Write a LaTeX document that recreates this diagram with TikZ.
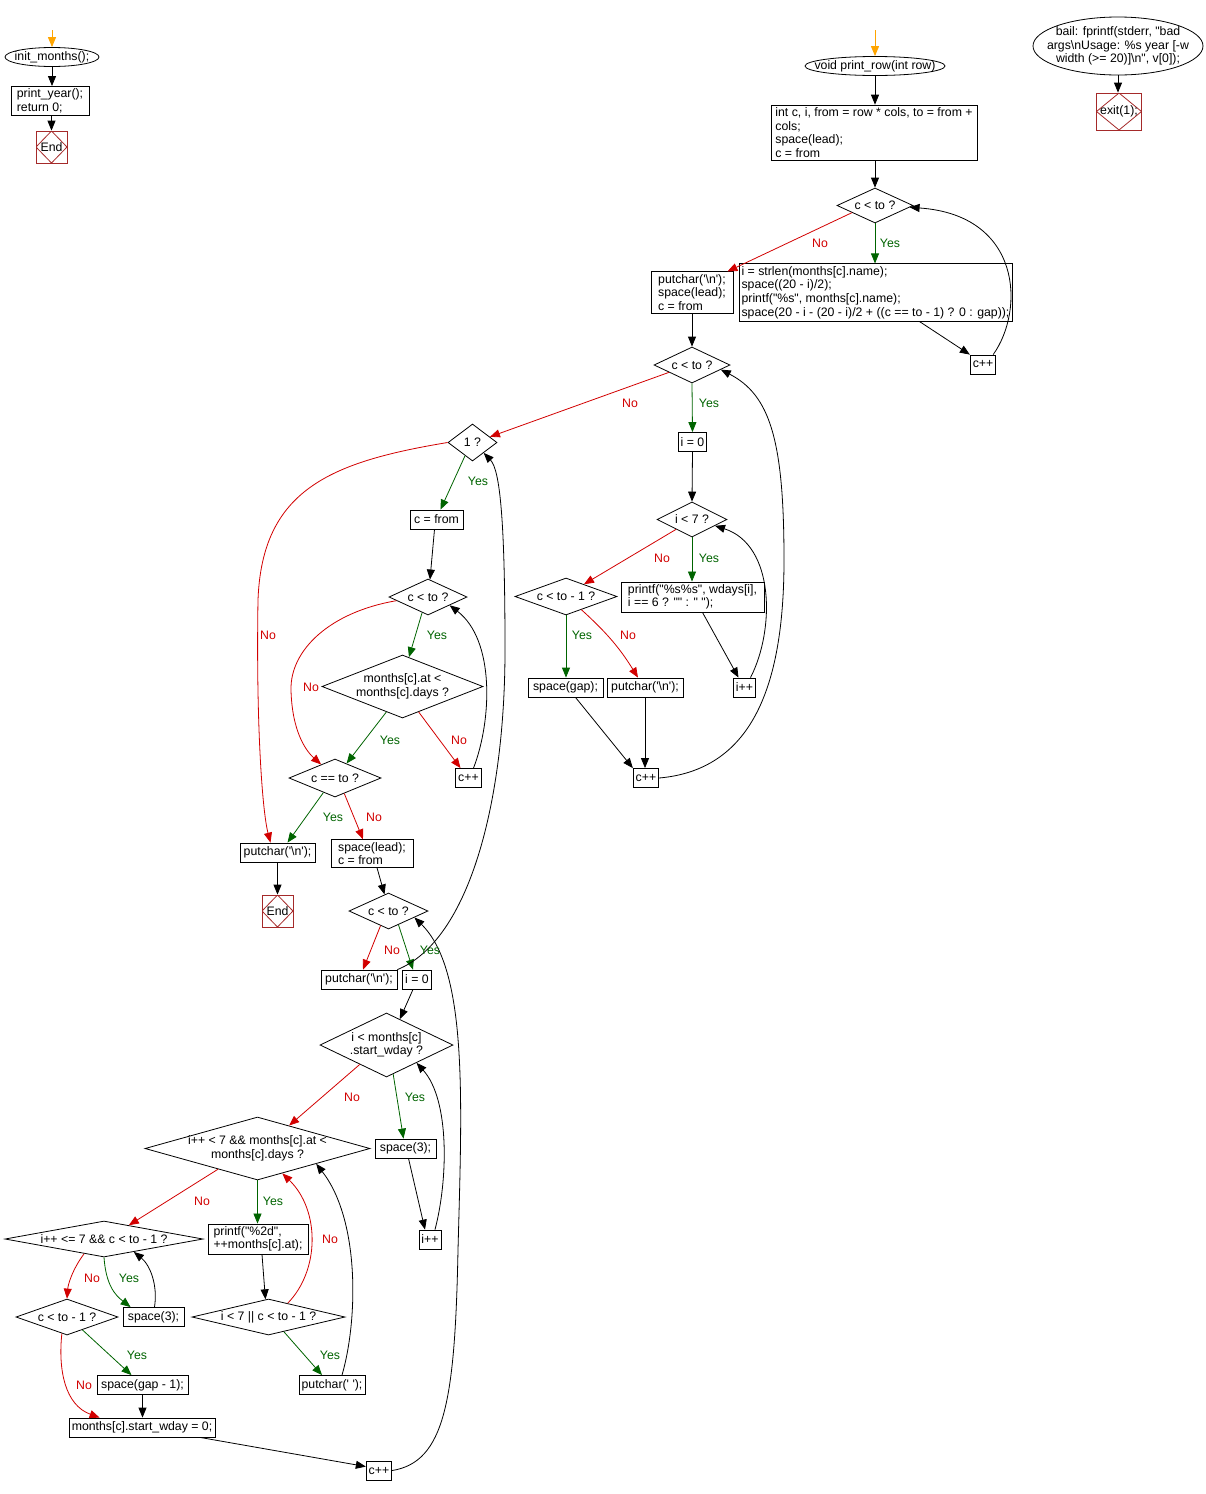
\documentclass[tikz,border=0pt]{standalone}
\usepackage{fontspec}
\setmainfont{Liberation Sans}[Ligatures=TeXOff]
\usetikzlibrary{arrows.meta,shapes.geometric,calc}
\definecolor{nored}{RGB}{210,0,0}
\definecolor{yesgreen}{RGB}{0,100,0}
\definecolor{endc}{RGB}{165,42,42}
\definecolor{startor}{RGB}{255,165,0}
\begin{document}
\begin{tikzpicture}[x=1pt,y=-1pt,
  font=\fontsize{12.3}{13.6}\selectfont,
  box/.style={draw, rectangle, inner sep=2.5pt, align=left, line width=0.8pt, minimum height=19pt},
  dia/.style={draw, diamond, inner sep=0pt, line width=0.8pt},
  ell/.style={draw, ellipse, inner sep=0pt, line width=0.8pt},
  endbox/.style={draw=endc, rectangle, line width=0.8pt, inner sep=0pt, path picture={\draw[endc, line width=0.8pt] (path picture bounding box.north) -- (path picture bounding box.east) -- (path picture bounding box.south) -- (path picture bounding box.west) -- cycle;}},
  arr/.style={-{Triangle[length=10pt,width=8pt]}, line width=0.8pt},
  yesarr/.style={arr, color=yesgreen},
  noarr/.style={arr, color=nored},
  startarr/.style={arr, color=startor, line width=1pt},
  ylab/.style={text=yesgreen, inner sep=0pt},
  nlab/.style={text=nored, inner sep=0pt}
]
\fill[white] (0,0) rectangle (1206,1494);
\useasboundingbox (0,0) rectangle (1206,1494);

% top left
\coordinate (sL) at (52,30);
\node[ell, minimum width=94, minimum height=19, label={center:init\_months();}] (init) at (52,57) {};
\node[box, minimum width=78] (py) at (50,101) {print\_year();\\return 0;};
\node[endbox, minimum width=31, minimum height=32] (endL) at (51.5,147) {End};

% print_row
\coordinate (sR) at (875,30);
\node[ell, minimum width=140, minimum height=19, label={center:void print\_row(int row)}] (pr) at (875,66) {};
\node[box, minimum width=206] (b1) at (874,132.5) {int c, i, from = row * cols, to = from +\\cols;\\space(lead);\\c = from};
\node[dia, minimum width=76, minimum height=35, label={center:c < to ?}] (d1) at (875,205.5) {};
\node[box] (b2) at (875.5,292.5) {i = strlen(months[c].name);\\space((20 - i)/2);\\printf("\%s", months[c].name);\\space(20 - i - (20 - i)/2 + ((c == to - 1) ? 0 : gap));};
\node[box, minimum width=82] (b3) at (692,292.5) {putchar('\textbackslash n');\\space(lead);\\c = from};
\node[box] (cpp1) at (983,364.5) {c++};
\node[dia, minimum width=76, minimum height=36, label={center:c < to ?}] (d2) at (692,365) {};
\node[box] (i0a) at (692.5,442) {i = 0};
\node[dia, minimum width=70, minimum height=35, label={center:i < 7 ?}] (d3) at (692,519.5) {};
\node[box, minimum width=143] (b4) at (692.5,597) {printf("\%s\%s", wdays[i],\\i == 6 ? "" : " ");};
\node[dia, minimum width=102, minimum height=37, label={center:c < to - 1 ?}] (d4) at (566,596.5) {};
\node[box] (ipp1) at (744.5,687.5) {i++};
\node[box, minimum width=75] (sg) at (565.5,687.5) {space(gap);};
\node[box, minimum width=76] (pn1) at (645,687.5) {putchar('\textbackslash n');};
\node[box] (cpp2) at (646,778) {c++};

% middle
\node[dia, minimum width=49, minimum height=37, label={center:1 ?}] (one) at (472.5,442.5) {};
\node[box, minimum width=53] (cf) at (436.5,519.5) {c = from};
\node[dia, minimum width=78, minimum height=36, label={center:c < to ?}] (d5) at (428,597) {};
\node[dia, minimum width=161, minimum height=63, label={[align=center]center:{months[c].at <\\months[c].days ?}}] (d6) at (402.5,686.5) {};
\node[box] (cpp3) at (468.5,778) {c++};
\node[dia, minimum width=92, minimum height=38, label={center:c == to ?}] (d7) at (335,778) {};
\node[box, minimum width=75] (pn2) at (277.5,852.5) {putchar('\textbackslash n');};
\node[box, minimum width=82] (sl) at (372,853.5) {space(lead);\\c = from};
\node[endbox, minimum width=31, minimum height=32] (endM) at (277.5,911) {End};
\node[dia, minimum width=79, minimum height=36, label={center:c < to ?}] (d8) at (388.5,911) {};
\node[box, minimum width=76] (pn3) at (359,979.5) {putchar('\textbackslash n');};
\node[box] (i0b) at (417,979.5) {i = 0};
\node[dia, minimum width=133, minimum height=64, label={[align=center]center:{i < months[c]\\.start\_wday ?}}] (d9) at (386.5,1045) {};
\node[box, minimum width=61] (sp3a) at (405.5,1148.5) {space(3);};
\node[box] (ipp2) at (430,1239.5) {i++};
\node[dia, minimum width=225, minimum height=63, label={[align=center]center:{i++ < 7 \&\& months[c].at <\\months[c].days ?}}] (d10) at (257.5,1148.5) {};
\node[box, minimum width=100] (b5) at (258,1239) {printf("\%2d",\\++months[c].at);};
\node[dia, minimum width=198, minimum height=36, label={center:{i++ <= 7 \&\& c < to - 1 ?}}] (d11) at (104,1239) {};
\node[dia, minimum width=153, minimum height=36, label={center:{i < 7 || c < to - 1 ?}}] (d12) at (268.5,1317) {};
\node[box, minimum width=66] (pc) at (332,1385) {putchar(' ');};
\node[box, minimum width=61] (sp3b) at (153.5,1317) {space(3);};
\node[dia, minimum width=102, minimum height=36, label={center:c < to - 1 ?}] (d13) at (67,1317) {};
\node[box, minimum width=91] (sg1) at (142.5,1385) {space(gap - 1);};
\node[box, minimum width=146] (msw) at (142,1427.5) {months[c].start\_wday = 0;};
\node[box] (cpp4) at (379,1470.5) {c++};

% bail
\node[ell, minimum width=170, minimum height=58, label={[align=center]center:{bail: fprintf(stderr, "bad\\args\textbackslash nUsage: \%s year [-w\\width (>= 20)]\textbackslash n", v[0]);}}] (bail) at (1118,46) {};
\node[endbox, minimum width=45, minimum height=37] (exit) at (1119,111.5) {exit(1);};

% edges top left
\draw[startarr] (sL) -- (init.north);
\draw[arr] (init.south) -- (init.south |- py.north);
\draw[arr] (endL.north |- py.south) -- (endL.north);

% edges print_row
\draw[startarr] (sR) -- (pr.north);
\draw[arr] (pr.south) -- (pr.south |- b1.north);
\draw[arr] (pr.south |- b1.south) -- (d1.north);
\draw[yesarr] (d1.south) -- (d1.south |- b2.north);
\draw[noarr] ($(d1.west)!0.4!(d1.south)$) -- ($(b3.north east)+(-6,0)$);
\draw[arr] ($(b2.south)+(44,0)$) -- (cpp1.north west);
\draw[arr] ($(cpp1.north east)+(-3,0)$) .. controls (1025,310) and (1022,215) .. ($(d1.east)!0.1!(d1.south)$);
\draw[arr] (b3.south) -- (d2.north);
\draw[yesarr] (d2.south) -- (i0a.north);
\draw[noarr] ($(d2.west)!0.4!(d2.south)$) -- ($(one.east)!0.3!(one.north)$);
\draw[arr] (i0a.south) -- (d3.north);
\draw[yesarr] (d3.south) -- (d3.south |- b4.north);
\draw[noarr] ($(d3.west)!0.55!(d3.south)$) -- ($(d4.north)!0.35!(d4.east)$);
\draw[arr] ($(b4.south)+(10,0)$) -- ($(ipp1.north)+(-6,0)$);
\draw[arr] ($(ipp1.north)+(6,0)$) .. controls (775,630) and (775,545) .. ($(d3.east)!0.35!(d3.south)$);
\draw[yesarr] (d4.south) -- (d4.south |- sg.north);
\draw[noarr] ($(d4.south)!0.3!(d4.east)$) to[bend left=8] ($(pn1.north)+(-7,0)$);
\draw[arr] ($(sg.south)+(10,0)$) -- (cpp2.north west);
\draw[arr] (pn1.south) -- (pn1.south |- cpp2.north);
\draw[arr] (cpp2.east) .. controls (750,770) and (784,690) .. (784,560) .. controls (784,440) and (770,395) .. ($(d2.east)!0.25!(d2.south)$);

% edges middle
\draw[yesarr] ($(one.south)!0.3!(one.west)$) -- ($(cf.north)+(4,0)$);
\draw[noarr] (one.west) .. controls (330,462) and (262,490) .. (258,600) .. controls (256,720) and (262,810) .. ($(pn2.north)+(-7,0)$);
\draw[arr] ($(cf.south)+(-2,0)$) -- ($(d5.north)!0.05!(d5.east)$);
\draw[yesarr] ($(d5.south)!0.15!(d5.west)$) -- ($(d6.north)!0.08!(d6.east)$);
\draw[noarr] ($(d5.west)!0.2!(d5.south)$) .. controls (330,612) and (290,650) .. (291,690) .. controls (292,730) and (305,750) .. ($(d7.north)!0.3!(d7.west)$);
\draw[yesarr] ($(d6.south)!0.2!(d6.west)$) -- ($(d7.north)!0.25!(d7.east)$);
\draw[noarr] ($(d6.south)!0.2!(d6.east)$) -- ($(cpp3.north)+(-8,0)$);
\draw[arr] ($(cpp3.north)+(5,0)$) .. controls (492,720) and (495,640) .. ($(d5.east)!0.45!(d5.south)$);
\draw[yesarr] ($(d7.south)!0.25!(d7.west)$) -- ($(pn2.north)+(10,0)$);
\draw[noarr] ($(d7.south)!0.2!(d7.east)$) -- ($(sl.north)+(-9,0)$);
\draw[arr] (pn2.south) -- (pn2.south |- endM.north);
\draw[arr] ($(sl.south)+(5,0)$) -- ($(d8.north)!0.1!(d8.west)$);
\draw[noarr] ($(d8.south)!0.2!(d8.west)$) -- ($(pn3.north)+(4,0)$);
\draw[yesarr] ($(d8.south)!0.25!(d8.east)$) -- ($(i0b.north)+(-4,0)$);
\draw[arr] (pn3.north east) .. controls (470,940) and (505,800) .. (505,650) .. controls (505,520) and (500,470) .. ($(one.east)!0.55!(one.south)$);
\draw[arr] ($(i0b.south)+(-4,0)$) -- ($(d9.north)!0.2!(d9.east)$);
\draw[yesarr] ($(d9.south)!0.1!(d9.east)$) -- ($(sp3a.north)+(-2,0)$);
\draw[noarr] ($(d9.south)!0.4!(d9.west)$) -- ($(d10.north)!0.28!(d10.east)$);
\draw[arr] ($(sp3a.south)+(3,0)$) -- ($(ipp2.north)+(-5,0)$);
\draw[arr] ($(ipp2.north)+(5,0)$) .. controls (448,1180) and (450,1100) .. ($(d9.east)!0.55!(d9.south)$);
\draw[yesarr] (d10.south) -- (d10.south |- b5.north);
\draw[noarr] ($(d10.south)!0.35!(d10.west)$) -- ($(d11.north)!0.25!(d11.east)$);
\draw[arr] ($(b5.south)+(4,0)$) -- ($(d12.north)!0.04!(d12.west)$);
\draw[noarr] ($(d12.north)!0.25!(d12.east)$) .. controls (320,1270) and (320,1210) .. ($(d10.south)!0.22!(d10.east)$);
\draw[yesarr] ($(d12.south)!0.2!(d12.east)$) -- ($(pc.north)+(-10,0)$);
\draw[arr] ($(pc.north)+(10,0)$) .. controls (358,1320) and (360,1220) .. ($(d10.east)!0.48!(d10.south)$);
\draw[yesarr] (d11.south) .. controls (106,1285) and (115,1295) .. ($(sp3b.north west)+(8,0)$);
\draw[arr] ($(sp3b.north)+(1,0)$) .. controls (158,1285) and (150,1265) .. ($(d11.south)!0.3!(d11.east)$);
\draw[noarr] ($(d11.south)!0.2!(d11.west)$) .. controls (72,1270) and (68,1285) .. (d13.north);
\draw[yesarr] ($(d13.south)!0.3!(d13.east)$) -- ($(sg1.north)+(-11,0)$);
\draw[noarr] ($(d13.south)!0.1!(d13.west)$) .. controls (58,1370) and (65,1405) .. ($(msw.north west)+(31,0)$);
\draw[arr] (sg1.south) -- (sg1.south |- msw.north);
\draw[arr] ($(msw.south)+(58,0)$) -- ($(cpp4.north west)!0.3!(cpp4.south west)$);
\draw[arr] (cpp4.east) .. controls (445,1462) and (455,1400) .. (458,1250) .. controls (462,1100) and (468,970) .. ($(d8.east)!0.35!(d8.south)$);

\draw[arr] (bail.south) -- (bail.south |- exit.north);

% labels
\node[ylab] (ly1) at (890,243) {Yes};
\node[nlab] (ln1) at (820,243) {No};
\node[ylab] (ly2) at (709,403) {Yes};
\node[nlab] (ln2) at (630,403) {No};
\node[ylab] (ly3) at (709,558) {Yes};
\node[nlab] (ln3) at (662,558) {No};
\node[ylab] (ly4) at (582,635) {Yes};
\node[nlab] (ln4) at (628,635) {No};
\node[ylab] (ly5) at (478,481) {Yes};
\node[nlab] (ln5) at (268,635) {No};
\node[ylab] (ly6) at (437,635) {Yes};
\node[nlab] (ln6) at (311,687) {No};
\node[ylab] (ly7) at (390,740) {Yes};
\node[nlab] (ln7) at (459,740) {No};
\node[ylab] (ly8) at (333,817) {Yes};
\node[nlab] (ln8) at (374,817) {No};
\node[nlab] (ln9) at (392,950) {No};
\node[ylab] (ly9) at (430,950) {Yes};
\node[ylab] (ly10) at (415,1097) {Yes};
\node[nlab] (ln10) at (352,1097) {No};
\node[ylab] (ly11) at (273,1201) {Yes};
\node[nlab] (ln11) at (202,1201) {No};
\node[nlab] (ln12) at (330,1239) {No};
\node[ylab] (ly12) at (330,1355) {Yes};
\node[ylab] (ly13) at (129,1278) {Yes};
\node[nlab] (ln13) at (92,1278) {No};
\node[ylab] (ly14) at (137,1355) {Yes};
\node[nlab] (ln14) at (84,1385) {No};
\end{tikzpicture}
\end{document}
